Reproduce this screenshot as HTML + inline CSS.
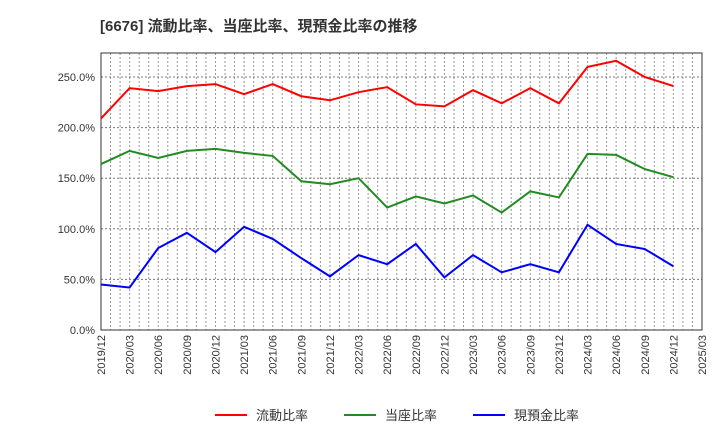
<!DOCTYPE html>
<html><head><meta charset="utf-8"><style>
body{margin:0;background:#fff;font-family:"Liberation Sans","Noto Sans CJK JP",sans-serif}
</style></head><body>
<svg width="720" height="440" xmlns="http://www.w3.org/2000/svg">
<text x="100" y="31" font-size="15" font-weight="bold" fill="#333" font-family="Liberation Sans, Noto Sans CJK JP, sans-serif">[6676]  流動比率、当座比率、現預金比率の推移</text>
<g id="grid"></g><g id="axes"></g><g id="series"></g>
<g font-size="13" fill="#333" font-family="Liberation Sans, Noto Sans CJK JP, sans-serif">
<line x1="215" y1="415" x2="247" y2="415" stroke="#f00" stroke-width="2"/><text x="256" y="420">流動比率</text>
<line x1="344" y1="415" x2="376" y2="415" stroke="#228b22" stroke-width="2"/><text x="385" y="420">当座比率</text>
<line x1="473" y1="415" x2="505" y2="415" stroke="#00f" stroke-width="2"/><text x="514" y="420">現預金比率</text>
</g>
</svg>
<script>
const categories=["2019/12","2020/03","2020/06","2020/09","2020/12","2021/03","2021/06","2021/09","2021/12","2022/03","2022/06","2022/09","2022/12","2023/03","2023/06","2023/09","2023/12","2024/03","2024/06","2024/09","2024/12","2025/03"];
const currentRatio=[209,239,236,241,243,233,243,231,227,235,240,223,221,237,224,239,224,260,266,250,241];
const quickRatio=[164,177,170,177,179,175,172,147,144,150,121,132,125,133,116,137,131,174,173,159,151];
const cashRatio=[45,42,81,96,77,102,90,71,53,74,65,85,52,74,57,65,57,104,85,80,63];
const yTicks=[0,50,100,150,200,250];
const NS="http://www.w3.org/2000/svg";
const L=101,R=702,T=53,B=330;
const x=i=>L+(R-L)*i/(categories.length-1);
const y=v=>B-(B-77)*v/250;
function mk(tag,attrs,parent){const e=document.createElementNS(NS,tag);for(const k in attrs)e.setAttribute(k,attrs[k]);parent.appendChild(e);return e;}
const grid=document.getElementById('grid'),axes=document.getElementById('axes'),ser=document.getElementById('series');
const months=(categories.length-1)*3;
for(let m=1;m<months;m++){const xx=L+(R-L)*m/months;const g=mk('line',{x1:xx,x2:xx,y1:T,y2:B,stroke:'#999','stroke-dasharray':'2,2','stroke-width':1},grid);

}
yTicks.forEach(v=>{const yy=y(v);const g=mk('line',{x1:L,x2:R,y1:yy,y2:yy,stroke:'#777','stroke-dasharray':'2,2'},grid);


const t=mk('text',{x:L-6,y:yy+4,'text-anchor':'end','font-size':11,fill:'#333'},axes);t.textContent=v.toFixed(1)+'%';

});
const fr=mk('rect',{x:L,y:T,width:R-L,height:B-T,fill:'none',stroke:'#333'},axes);


categories.forEach((c,i)=>{const xx=x(i);const t=mk('text',{transform:`translate(${xx+4},${B+5}) rotate(-90)`,'text-anchor':'end','font-size':11,fill:'#333'},axes);t.textContent=c;

});
[[currentRatio,'#f00','current-ratio-line'],[quickRatio,'#228b22','quick-ratio-line'],[cashRatio,'#00f','cash-ratio-line']].forEach(([d,c,n])=>{
const p=mk('polyline',{points:d.map((v,i)=>x(i)+','+y(v)).join(' '),fill:'none',stroke:c,'stroke-width':2},ser);

});
</script>
</body></html>
